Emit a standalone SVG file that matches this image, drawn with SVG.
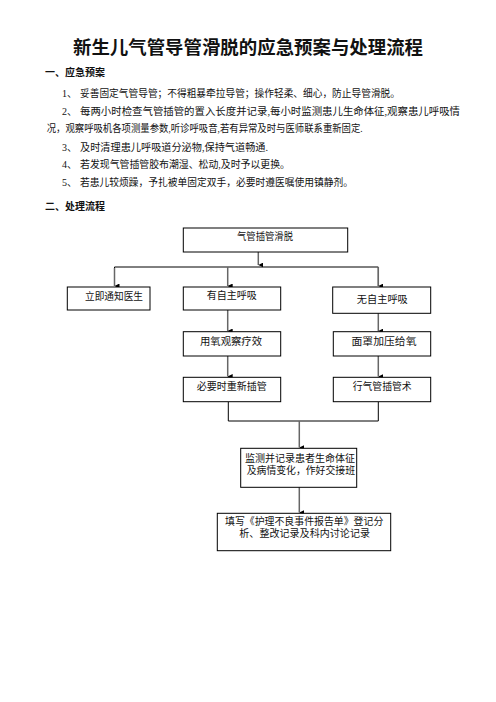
<svg xmlns="http://www.w3.org/2000/svg" width="496" height="702" viewBox="0 0 496 702">
<defs>
<style>
text{font-family:"Liberation Serif","Noto Sans CJK SC",serif;fill:#111;}
.title{font-size:18px;font-weight:bold;font-family:"Liberation Sans","Noto Sans CJK SC",sans-serif;}
.h{font-size:10px;font-weight:bold;font-family:"Liberation Sans","Noto Sans CJK SC",sans-serif;}
.b{font-size:10px;}
.n{font-size:10px;}
.box{fill:#fff;stroke:#000;stroke-width:1;}
.v{stroke:#666;stroke-width:1.5;fill:none;}
.hl{stroke:#000;stroke-width:1;fill:none;}
</style>
<marker id="arr" viewBox="0 0 6 6" refX="3" refY="6" markerWidth="5" markerHeight="5" orient="auto-start-reverse" markerUnits="userSpaceOnUse">
<path d="M0,0 L6,0 L3,6 Z" fill="#000"/>
</marker>
</defs>
<rect width="496" height="702" fill="#fff"/>
<text class="title" x="73" y="54" textLength="350" lengthAdjust="spacingAndGlyphs">新生儿气管导管滑脱的应急预案与处理流程</text>
<text class="h" x="45" y="75.5" textLength="60" lengthAdjust="spacingAndGlyphs">一、应急预案</text>
<text class="b" x="62" y="97">1、</text>
<text class="b" x="80" y="97" textLength="320" lengthAdjust="spacingAndGlyphs">妥善固定气管导管；不得粗暴牵拉导管；操作轻柔、细心，防止导管滑脱。</text>
<text class="b" x="62" y="115">2、</text>
<text class="b" x="80" y="115" textLength="380" lengthAdjust="spacingAndGlyphs">每两小时检查气管插管的置入长度并记录,每小时监测患儿生命体征,观察患儿呼吸情</text>
<text class="b" x="46.7" y="132" textLength="316" lengthAdjust="spacingAndGlyphs">况，观察呼吸机各项测量参数,听诊呼吸音,若有异常及时与医师联系重新固定.</text>
<text class="b" x="62" y="150.5">3、</text>
<text class="b" x="80" y="150.5" textLength="188" lengthAdjust="spacingAndGlyphs">及时清理患儿呼吸道分泌物,保持气道畅通.</text>
<text class="b" x="62" y="168">4、</text>
<text class="b" x="80" y="168" textLength="210" lengthAdjust="spacingAndGlyphs">若发现气管插管胶布潮湿、松动,及时予以更换。</text>
<text class="b" x="62" y="185.5">5、</text>
<text class="b" x="80" y="185.5" textLength="273" lengthAdjust="spacingAndGlyphs">若患儿较烦躁，予扎被单固定双手，必要时遵医嘱使用镇静剂。</text>
<text class="h" x="45" y="210" textLength="60" lengthAdjust="spacingAndGlyphs">二、处理流程</text>

<g id="connectors">
<line class="v" x1="258.3" y1="252" x2="258.3" y2="265" marker-end="url(#arr)"/>
<polyline class="hl" points="114.5,286 114.5,267 378.3,267 378.3,286"/>
<line class="v" x1="114.5" y1="268" x2="114.5" y2="286" marker-end="url(#arr)"/>
<line class="v" x1="227.7" y1="267" x2="227.7" y2="286" marker-end="url(#arr)"/>
<line class="v" x1="378.3" y1="267" x2="378.3" y2="286" marker-end="url(#arr)"/>
<line class="v" x1="227.7" y1="310" x2="227.7" y2="331" marker-end="url(#arr)"/>
<line class="v" x1="378.3" y1="313" x2="378.3" y2="331" marker-end="url(#arr)"/>
<line class="v" x1="227.7" y1="356" x2="227.7" y2="376.5" marker-end="url(#arr)"/>
<line class="v" x1="378.3" y1="356" x2="378.3" y2="376.5" marker-end="url(#arr)"/>
<polyline class="hl" points="228.3,402 228.3,421 378.3,421 378.3,402"/>
<line class="v" x1="299.3" y1="421" x2="299.3" y2="447.5" marker-end="url(#arr)"/>
<line class="v" x1="299.3" y1="487" x2="299.3" y2="512.5" marker-end="url(#arr)"/>
</g>

<g id="n1"><rect class="box" x="183.3" y="228" width="164.4" height="24"/><text class="n" x="265" y="240.3" text-anchor="middle" textLength="56" lengthAdjust="spacingAndGlyphs">气管插管滑脱</text></g>
<g id="n2"><rect class="box" x="67.3" y="287" width="82.7" height="23"/><text class="n" x="114" y="299.6" text-anchor="middle" textLength="58" lengthAdjust="spacingAndGlyphs">立即通知医生</text></g>
<g id="n3"><rect class="box" x="183.3" y="287" width="97.4" height="23"/><text class="n" x="231.7" y="298.6" text-anchor="middle" textLength="50" lengthAdjust="spacingAndGlyphs">有自主呼吸</text></g>
<g id="n4"><rect class="box" x="332.7" y="287" width="98" height="26.3"/><text class="n" x="382.3" y="302.6" text-anchor="middle" textLength="51" lengthAdjust="spacingAndGlyphs">无自主呼吸</text></g>
<g id="n5"><rect class="box" x="183.3" y="331.7" width="97.4" height="24.3"/><text class="n" x="231" y="345.3" text-anchor="middle" textLength="62" lengthAdjust="spacingAndGlyphs">用氧观察疗效</text></g>
<g id="n6"><rect class="box" x="333.3" y="331.7" width="97.4" height="24.3"/><text class="n" x="384" y="345.3" text-anchor="middle" textLength="65" lengthAdjust="spacingAndGlyphs">面罩加压给氧</text></g>
<g id="n7"><rect class="box" x="183.3" y="377.3" width="97.4" height="24.4"/><text class="n" x="231.7" y="390.3" text-anchor="middle" textLength="70" lengthAdjust="spacingAndGlyphs">必要时重新插管</text></g>
<g id="n8"><rect class="box" x="333.3" y="377.3" width="97.4" height="24.4"/><text class="n" x="382.2" y="390.3" text-anchor="middle" textLength="59" lengthAdjust="spacingAndGlyphs">行气管插管术</text></g>
<g id="n9"><rect class="box" x="240.7" y="448.3" width="116" height="39"/><text class="n" x="245" y="461.9" textLength="110" lengthAdjust="spacingAndGlyphs">监测并记录患者生命体征</text><text class="n" x="246.7" y="474.3" textLength="108.3" lengthAdjust="spacingAndGlyphs">及病情变化，作好交接班</text></g>
<g id="n10"><rect class="box" x="217.3" y="513.3" width="173.4" height="37.4"/><text class="n" x="225" y="525.3" textLength="158.3" lengthAdjust="spacingAndGlyphs">填写《护理不良事件报告单》登记分</text><text class="n" x="239.3" y="536.9" textLength="130.7" lengthAdjust="spacingAndGlyphs">析、整改记录及科内讨论记录</text></g>
</svg>
